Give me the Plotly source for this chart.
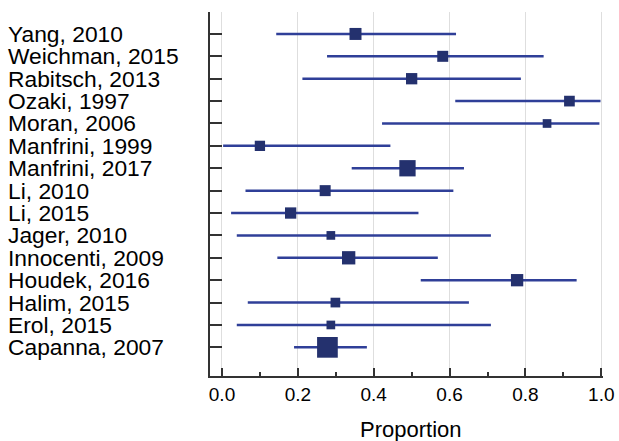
import plotly.graph_objects as go

studies = ["Yang, 2010", "Weichman, 2015", "Rabitsch, 2013", "Ozaki, 1997", "Moran, 2006",
           "Manfrini, 1999", "Manfrini, 2017", "Li, 2010", "Li, 2015", "Jager, 2010",
           "Innocenti, 2009", "Houdek, 2016", "Halim, 2015", "Erol, 2015", "Capanna, 2007"]
proportion = [0.352, 0.582, 0.500, 0.916, 0.857, 0.100, 0.489, 0.272, 0.181, 0.287,
              0.334, 0.778, 0.299, 0.287, 0.278]
ci_low = [0.143, 0.277, 0.212, 0.615, 0.422, 0.003, 0.342, 0.062, 0.024, 0.039,
          0.146, 0.524, 0.068, 0.039, 0.190]
ci_high = [0.617, 0.848, 0.788, 0.998, 0.995, 0.444, 0.638, 0.610, 0.518, 0.709,
           0.569, 0.935, 0.651, 0.709, 0.382]
weights = [12, 11, 11.3, 10.7, 8.7, 10.3, 16.3, 11, 11.3, 8.7, 13.3, 12.3, 9.7, 8.7, 20.7]

plus = [h - p for h, p in zip(ci_high, proportion)]
minus = [p - l for p, l in zip(proportion, ci_low)]

order = list(reversed(studies))

fig = go.Figure()
fig.add_trace(go.Scatter(
    x=proportion, y=studies, mode="markers",
    marker=dict(symbol="square", size=weights, color="#24316e", opacity=1, line=dict(width=0)),
    error_x=dict(type="data", symmetric=False, array=plus, arrayminus=minus,
                 color="#2f3f98", thickness=2.5, width=0),
    showlegend=False, hoverinfo="skip",
))

for s in studies:
    fig.add_annotation(x=-0.517, xref="paper", y=s, yref="y", text=s, showarrow=False,
                       xanchor="left", yanchor="middle", borderpad=0,
                       font=dict(family="Liberation Sans, Arial", size=22.8, color="black"))

fig.add_annotation(x=0.511, xref="paper", y=-0.148, yref="paper", text="Proportion",
                   showarrow=False, xanchor="center", yanchor="middle",
                   font=dict(family="Liberation Sans, Arial", size=22, color="black"))

fig.update_layout(
    width=619, height=441,
    margin=dict(l=210, r=16, t=12, b=65),
    paper_bgcolor="white", plot_bgcolor="white",
    font=dict(family="Liberation Sans, Arial", color="black"),
)
fig.update_xaxes(
    range=[-0.0316, 1.0045], tick0=0, dtick=0.2, tickformat=".1f", automargin=False,
    showgrid=True, gridcolor="#dedede", gridwidth=1, zeroline=False,
    showline=True, linecolor="#333333", linewidth=2,
    ticks="inside", ticklen=8, tickwidth=2, tickcolor="#333333",
    minor=dict(ticks="inside", ticklen=4, tickwidth=1.5, tickcolor="#333333",
               tick0=0, dtick=0.1, showgrid=False),
    tickfont=dict(size=19, color="black"),
)
fig.update_yaxes(
    type="category", categoryorder="array", categoryarray=order, automargin=False,
    range=[-1.28, 14.98], showticklabels=False, showgrid=False, zeroline=False,
    showline=True, linecolor="#333333", linewidth=2,
    ticks="inside", ticklen=12, tickwidth=2, tickcolor="#333333",
)

fig.write_html("out.html")
